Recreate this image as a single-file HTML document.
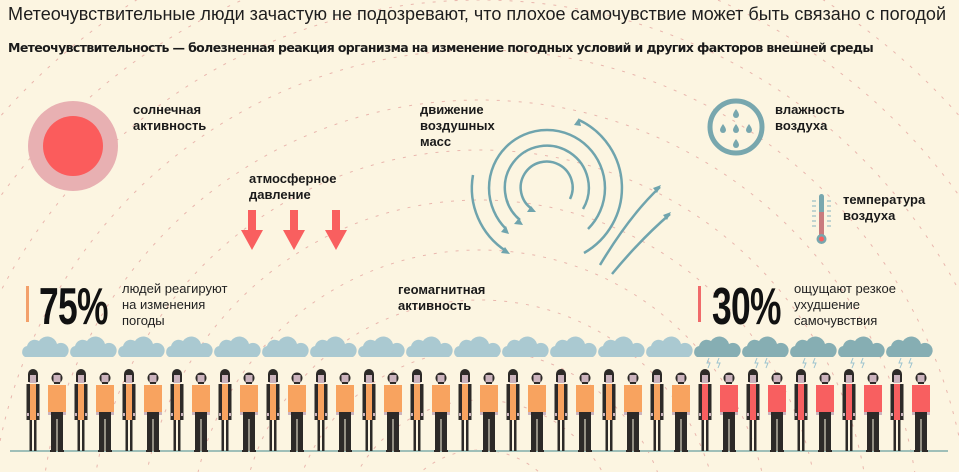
<!DOCTYPE html>
<html style="overflow:hidden;height:472px"><head><meta charset="utf-8"><style>
html,body{margin:0;padding:0}
body{background:#fcf5e1;width:959px;height:472px;overflow:hidden;position:relative;font-family:"Liberation Sans","DejaVu Sans",sans-serif}
svg{display:block}
.t{position:absolute;white-space:nowrap;color:#1a1a1a}
.b{font-weight:bold;font-size:13px;line-height:16px}
.n{font-size:13px;line-height:16px;color:#222}
.big{position:absolute;font-weight:bold;font-size:52px;line-height:52px;transform:scaleX(0.68);transform-origin:0 0;color:#111;letter-spacing:-1px}
</style></head><body>
<svg width="959" height="472" style="position:absolute;left:0;top:0">
<defs>
<g id="w"><rect x="-4" y="-7" width="8" height="11" fill="#cbb3bd"/><path d="M-5,-5 a5,5 0 0 1 10,0 v8 h-2 v-7 h-6 v7 h-2z" fill="#2d2a28"/><rect x="-6.5" y="5" width="13" height="36" fill="#2d2a28"/><rect x="-3" y="5" width="6" height="36" fill="currentColor"/><rect x="-3.5" y="41" width="2.5" height="31" fill="#2d2a28"/><rect x="1" y="41" width="2.5" height="31" fill="#2d2a28"/><rect x="-6" y="34" width="2" height="3" fill="#cbb3bd"/><rect x="4" y="34" width="2" height="3" fill="#cbb3bd"/></g>
<g id="m"><circle cx="0" cy="-1" r="5.5" fill="#2d2a28"/><rect x="-3.5" y="-4" width="7" height="7" fill="#cbb3bd"/><rect x="-3" y="3" width="6" height="2" fill="#2d2a28"/><rect x="-9" y="6" width="18" height="27" fill="currentColor"/><rect x="-9" y="33" width="3" height="3" fill="#cbb3bd"/><rect x="6" y="33" width="3" height="3" fill="#cbb3bd"/><rect x="-6" y="33" width="12" height="39" fill="#2d2a28"/><rect x="-0.5" y="40" width="1" height="32" fill="#fcf5e1"/><rect x="-7" y="71" width="6" height="2" fill="#2d2a28"/><rect x="1" y="71" width="6" height="2" fill="#2d2a28"/></g>
<g id="c"><path d="M-20,10 a6,6 0 0 1 2,-11 a8,8 0 0 1 12,-5 a10,10 0 0 1 18,3 a7,7 0 0 1 8,13z"/></g>
<g id="l"><path d="M-8,11 l-2,5 h3 l-2,5 M2,11 l-2,5 h3 l-2,5" stroke="#9cc3cf" stroke-width="1" fill="none"/></g>
<g id="d"><path d="M0,-4 q3,4 3,6 a3,3 0 0 1 -6,0 q0,-2 3,-6z"/></g>
</defs>
<g fill="none" stroke="#e8b0a8" stroke-width="1" stroke-dasharray="3 8" opacity="0.9">
<circle cx="480" cy="540" r="90"/><circle cx="480" cy="540" r="140"/><circle cx="480" cy="540" r="190"/><circle cx="480" cy="540" r="240"/><circle cx="480" cy="540" r="290"/><circle cx="480" cy="540" r="340"/><circle cx="480" cy="540" r="390"/><circle cx="480" cy="540" r="440"/><circle cx="480" cy="540" r="490"/><circle cx="480" cy="540" r="540"/><circle cx="480" cy="540" r="590"/><circle cx="480" cy="540" r="640"/>
</g>
<circle cx="73" cy="146" r="45" fill="#e8b0b2"/><circle cx="73" cy="146" r="30" fill="#fb5c5c"/>
<g fill="#f95f5f"><path d="M248,210h8v20h7l-11,20l-11,-20h7z"/><path d="M290,210h8v20h7l-11,20l-11,-20h7z"/><path d="M332,210h8v20h7l-11,20l-11,-20h7z"/></g>
<g fill="none" stroke="#6fa4ad" stroke-width="2.5">
<path d="M532,209 A26,26 0 1 1 570,199"/>
<path d="M520,220 A42,42 0 1 1 583,209"/>
<path d="M506,229 A58,58 0 1 1 588,229"/>
<path d="M584,253 A75,75 0 0 0 579,120"/>
<path d="M473,175 A75,75 0 0 0 506,251"/>
<path d="M600,265 Q630,215 660,187"/><path d="M612,274 Q640,240 670,214"/>
<circle cx="736" cy="127" r="26" stroke="#78a7ae" stroke-width="5"/>
</g>
<g fill="#6fa4ad"><path d="M536,212l-9,0l4,-6z"/><path d="M523,225l-9,-1l5,-6z"/><path d="M509,234l-8,-2l5,-6z"/><path d="M510,254l-9,-1l4,-6z"/><path d="M579,118l-5,7l7,1z"/><path d="M661,185l-8,3l4,5z"/><path d="M671,212l-8,3l4,5z"/></g>
<g fill="#78a7ae"><use href="#d" x="736" y="113"/><use href="#d" x="723" y="128"/><use href="#d" x="736" y="128"/><use href="#d" x="749" y="128"/><use href="#d" x="736" y="143"/></g>
<rect x="819" y="194" width="5" height="46" rx="2.5" fill="#78a7ae"/><rect x="819" y="212" width="5" height="28" fill="#c97b7e"/><circle cx="821.5" cy="239" r="5" fill="#78a7ae"/><circle cx="821.5" cy="239" r="2.5" fill="#f95f5f"/>
<g stroke="#9cc0c6" stroke-width="1.3"><path d="M812,201h4M812,206h4M812,211h4M812,216h4M812,221h4M812,226h4M827,201h4M827,206h4M827,211h4M827,216h4M827,221h4M827,226h4"/></g>
<rect x="26" y="286" width="3" height="36" fill="#f3a06a"/><rect x="698" y="286" width="3" height="36" fill="#f06a6a"/>
<g fill="#aac9d1">
<use href="#c" x="45" y="347"/><use href="#c" x="93" y="347"/><use href="#c" x="141" y="347"/><use href="#c" x="189" y="347"/><use href="#c" x="237" y="347"/><use href="#c" x="285" y="347"/><use href="#c" x="333" y="347"/><use href="#c" x="381" y="347"/><use href="#c" x="429" y="347"/><use href="#c" x="477" y="347"/><use href="#c" x="525" y="347"/><use href="#c" x="573" y="347"/><use href="#c" x="621" y="347"/><use href="#c" x="669" y="347"/>
</g>
<g fill="#86aeb3">
<use href="#c" x="717" y="347"/><use href="#c" x="765" y="347"/><use href="#c" x="813" y="347"/><use href="#c" x="861" y="347"/><use href="#c" x="909" y="347"/>
</g>
<use href="#l" x="717" y="347"/><use href="#l" x="765" y="347"/><use href="#l" x="813" y="347"/><use href="#l" x="861" y="347"/><use href="#l" x="909" y="347"/>
<rect x="10" y="450" width="938" height="2" fill="#9fbfb8"/>
<g color="#f8a35f">
<use href="#w" x="33" y="379"/><use href="#m" x="57" y="379"/><use href="#w" x="81" y="379"/><use href="#m" x="105" y="379"/><use href="#w" x="129" y="379"/><use href="#m" x="153" y="379"/><use href="#w" x="177" y="379"/><use href="#m" x="201" y="379"/><use href="#w" x="225" y="379"/><use href="#m" x="249" y="379"/><use href="#w" x="273" y="379"/><use href="#m" x="297" y="379"/><use href="#w" x="321" y="379"/><use href="#m" x="345" y="379"/><use href="#w" x="369" y="379"/><use href="#m" x="393" y="379"/><use href="#w" x="417" y="379"/><use href="#m" x="441" y="379"/><use href="#w" x="465" y="379"/><use href="#m" x="489" y="379"/><use href="#w" x="513" y="379"/><use href="#m" x="537" y="379"/><use href="#w" x="561" y="379"/><use href="#m" x="585" y="379"/><use href="#w" x="609" y="379"/><use href="#m" x="633" y="379"/><use href="#w" x="657" y="379"/><use href="#m" x="681" y="379"/>
</g>
<g color="#f85f60">
<use href="#w" x="705" y="379"/><use href="#m" x="729" y="379"/><use href="#w" x="753" y="379"/><use href="#m" x="777" y="379"/><use href="#w" x="801" y="379"/><use href="#m" x="825" y="379"/><use href="#w" x="849" y="379"/><use href="#m" x="873" y="379"/><use href="#w" x="897" y="379"/><use href="#m" x="921" y="379"/>
</g>
</svg>
<div class="t" style="left:8px;top:4px;font-size:18.05px;color:#1e1e1e">Метеочувствительные люди зачастую не подозревают, что плохое самочувствие может быть связано с погодой</div>
<div class="t" style="left:8px;top:40px;font-size:12.5px;font-weight:bold;font-family:'DejaVu Sans',sans-serif;letter-spacing:-0.62px">Метеочувствительность — болезненная реакция организма на изменение погодных условий и других факторов внешней среды</div>
<div class="t b" style="left:133px;top:102px">солнечная<br>активность</div>
<div class="t b" style="left:249px;top:171px">атмосферное<br>давление</div>
<div class="t b" style="left:420px;top:102px">движение<br>воздушных<br>масс</div>
<div class="t b" style="left:775px;top:102px">влажность<br>воздуха</div>
<div class="t b" style="left:843px;top:192px">температура<br>воздуха</div>
<div class="t b" style="left:398px;top:282px">геомагнитная<br>активность</div>
<div class="big" style="left:39px;top:281px">75%</div>
<div class="big" style="left:712px;top:281px">30%</div>
<div class="t n" style="left:122px;top:281px">людей реагируют<br>на изменения<br>погоды</div>
<div class="t n" style="left:794px;top:281px">ощущают резкое<br>ухудшение<br>самочувствия</div>
</body></html>
